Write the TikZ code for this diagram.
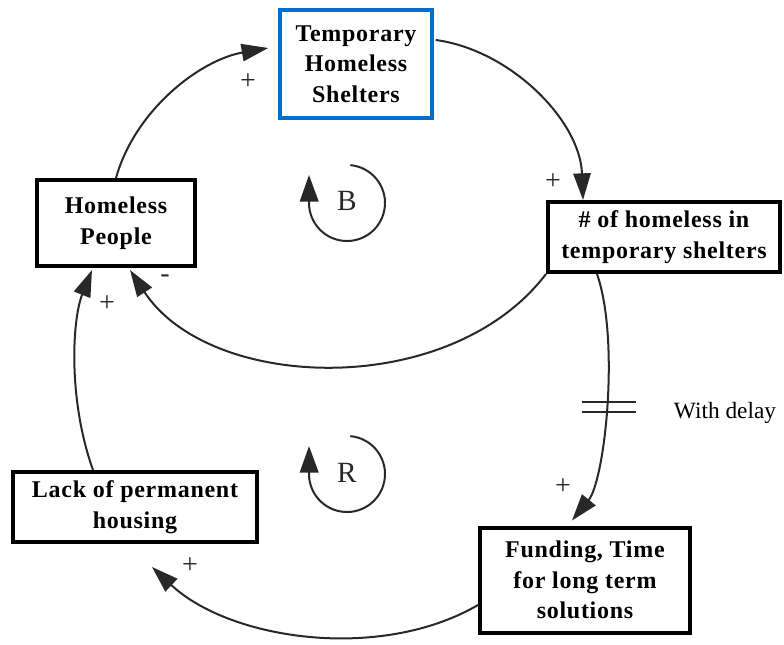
\documentclass[tikz,border=0pt]{standalone}
\usepackage{fontspec}
\setmainfont{Liberation Serif}
\newfontfamily\boxfont{Liberation Serif}[LetterSpace=3]
\usetikzlibrary{arrows.meta,calc}
\definecolor{shelterblue}{RGB}{0,112,204}
\definecolor{linkgray}{RGB}{40,40,40}
\begin{document}
\begin{tikzpicture}[x=0.75pt,y=-0.75pt,
  varbox/.style={draw=black,line width=3pt,fill=white,align=center,inner sep=0pt,
    font=\boxfont\bfseries\fontsize{18}{23}\selectfont},
  link/.style={draw=linkgray,line width=1.5pt,-{Triangle[length=20pt,width=13pt]}},
  polarity/.style={font=\fontsize{21}{21}\selectfont,text=linkgray,inner sep=0pt},
  loopname/.style={font=\fontsize{22}{22}\selectfont,text=linkgray,inner sep=0pt},
  looparrow/.style={draw=linkgray,line width=1.5pt,-{Triangle[length=20pt,width=14pt]}},
  delaymark/.style={draw=linkgray,line width=1.4pt},
]
\useasboundingbox (0,0) rectangle (784,645);

% variables
\node[varbox,draw=shelterblue,line width=2.6pt,minimum width=114pt,minimum height=81pt]
  (ts) at (356,64) {Temporary\\Homeless\\Shelters};
\node[varbox,minimum width=118.5pt,minimum height=64.5pt]
  (hp) at (116,223) {Homeless\\People};
\node[varbox,minimum width=174pt,minimum height=52.5pt]
  (nh) at (664,237) {\# of homeless in\\temporary shelters};
\node[varbox,minimum width=183pt,minimum height=52.5pt]
  (lp) at (135,507) {Lack of permanent\\housing};
\node[varbox,minimum width=157.5pt,minimum height=78.75pt]
  (ft) at (585,580) {Funding, Time\\for long term\\solutions};

% causal links
\draw[link] (hp.north) .. controls (135,110) and (200,60) .. ($(ts.west)+(-10,-16)$);
\draw[link] ($(ts.east)+(2,-24)$) .. controls (510,50) and (580,120) .. ($(nh.north)+(-81,0)$);
\draw[link] (nh.south west) .. controls (450,400) and (210,392) .. ($(hp.south)+(14,2)$);
\draw[link] ($(nh.south)+(-67,0)$) .. controls (620,340) and (605,480) ..
  coordinate[pos=0.5] (dly) ($(ft.north)+(-13,-5)$);
\draw[link] ($(ft.west)+(0,25)$) .. controls (380,662) and (230,640) .. ($(lp.south)+(17,23)$);
\draw[link] ($(lp.north)+(-42,0)$) .. controls (68,400) and (72,320) .. ($(hp.south)+(-24,2)$);

% delay mark
\draw[delaymark] ($(dly)+(-24,-5)$) -- ($(dly)+(30,-5)$);
\draw[delaymark] ($(dly)+(-24,5)$) -- ($(dly)+(30,5)$);
\node[font=\fontsize{17.5}{17.5}\selectfont] (delay) at (725,413) {With delay};

% polarities
\node[polarity] (p1) at (248,82) {+};
\node[polarity] (p2) at (553,182) {+};
\node[polarity] (p3) at (165,279) {-};
\node[polarity] (p4) at (563,487) {+};
\node[polarity] (p5) at (190,566) {+};
\node[polarity] (p6) at (107,304) {+};

% loop identifiers
\begin{scope}[shift={(347,203)},x=0.75pt,y=0.75pt]
  \draw[looparrow] (85:28.5pt) arc[start angle=85,end angle=-174,radius=28.5pt] -- (-28.5pt,21pt);
  \node[loopname] (B) at (0,2) {B};
\end{scope}
\begin{scope}[shift={(347,474)},x=0.75pt,y=0.75pt]
  \draw[looparrow] (85:28.5pt) arc[start angle=85,end angle=-174,radius=28.5pt] -- (-28.5pt,21pt);
  \node[loopname] (R) at (0,1) {R};
\end{scope}
\end{tikzpicture}
\end{document}
